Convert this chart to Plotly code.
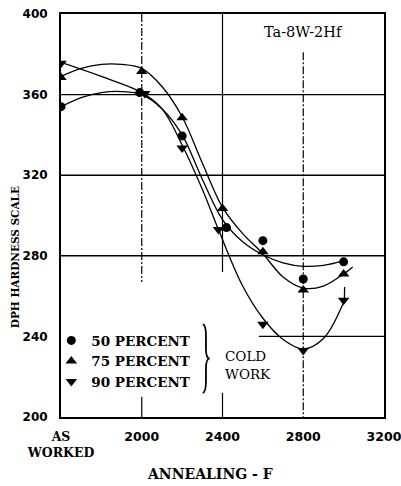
import plotly.graph_objects as go

# ---------------- data ----------------
# x = annealing temperature (F); 1600 is the "AS WORKED" position
x_ticks = [1600, 2000, 2400, 2800, 3200]
x_tick_text = ["<span style='font-family:DejaVu Serif'>AS</span><br><span style='font-family:DejaVu Serif'>WORKED</span>",
               "2000", "2400", "2800", "3200"]
y_ticks = [200, 240, 280, 320, 360, 400]

# measured points
p50_x = [1600, 1990, 2200, 2420, 2600, 2800, 3000]
p50_y = [354, 361, 339.5, 294, 287.5, 268.5, 277]
p75_x = [1600, 2000, 2200, 2400, 2600, 2800, 3000]
p75_y = [368.5, 371.5, 348.5, 303.5, 282, 263, 271]
p90_x = [1600, 2015, 2200, 2380, 2600, 2800, 3000]
p90_y = [375.5, 360.5, 333.5, 293, 246, 233, 258]

# faired curves drawn through the points
c50_x = [1600, 1700, 1800, 1900, 2000, 2100, 2200, 2300, 2400, 2500, 2600, 2700, 2800, 2900, 3000]
c50_y = [354, 358.5, 361, 361.5, 360, 353, 340, 318, 298, 287, 280.5, 276.5, 274.8, 275.3, 277.5]
c75_x = [1600, 1700, 1800, 1900, 2000, 2100, 2200, 2300, 2400, 2500, 2600, 2700, 2800, 2900, 3000, 3045]
c75_y = [369, 373, 375, 375, 373, 364, 349, 326, 304, 291, 281, 269.5, 264, 265, 271, 274.5]
c90_x = [1600, 1800, 2000, 2100, 2200, 2300, 2380, 2500, 2600, 2700, 2800, 2900, 3000]
c90_y = [376, 369, 361, 353, 335, 313, 293, 265, 249, 238.5, 233.8, 239, 257]
c90_end_x = [3004, 3005]
c90_end_y = [259, 264.5]

series_names = ["50 PERCENT", "75 PERCENT", "90 PERCENT"]
series_symbols = ["circle", "triangle-up", "triangle-down"]
title_text = "Ta-8W-2Hf"

# ---------------- figure ----------------
fig = go.Figure()
line_style = dict(color="black", width=1.3, shape="spline", smoothing=1.0)
for cx, cy in [(c50_x, c50_y), (c75_x, c75_y), (c90_x, c90_y)]:
    fig.add_trace(go.Scatter(x=cx, y=cy, mode="lines", line=line_style,
                             showlegend=False, hoverinfo="skip"))
fig.add_trace(go.Scatter(x=c90_end_x, y=c90_end_y, mode="lines",
                         line=dict(color="black", width=1.3),
                         showlegend=False, hoverinfo="skip"))

for (px, py), name, sym, sz in zip([(p50_x, p50_y), (p75_x, p75_y), (p90_x, p90_y)],
                                  series_names, series_symbols, [9, 10, 10]):
    fig.add_trace(go.Scatter(x=px, y=py, mode="markers", name=name,
                             marker=dict(symbol=sym, size=sz, color="black")))

# grid lines (partial, as in the original)
def hline(y, x0=1600, x1=3200, dash="solid"):
    fig.add_shape(type="line", x0=x0, x1=x1, y0=y, y1=y, xref="x", yref="y",
                  line=dict(color="black", width=1.4, dash=dash), layer="below")

def vline(x, y0, y1, dash="solid"):
    fig.add_shape(type="line", x0=x, x1=x, y0=y0, y1=y1, xref="x", yref="y",
                  line=dict(color="black", width=1.2, dash=dash), layer="below")

for yv in [360, 320, 280]:
    hline(yv)
hline(240, x0=2580)
vline(2000, 400, 267, dash="8px,2px,2px,2px")
vline(2000, 210, 200)
vline(2400, 400, 272)
vline(2400, 212, 200)
vline(2800, 381, 200, dash="8px,2px,2px,2px")

# brace for "COLD WORK"
fig.add_shape(type="path", xref="x", yref="y",
              path="M 2302,246 Q 2318,246 2318,240 L 2318,234 Q 2318,229 2336,229 "
                   "Q 2318,229 2318,224 L 2318,218 Q 2318,212 2302,212",
              line=dict(color="black", width=1.8))

serif = "DejaVu Serif"
fig.add_annotation(x=2403, y=226, xref="x", yref="y", text="COLD<br>WORK", showarrow=False,
                   xanchor="left", yanchor="middle", align="left",
                   font=dict(family=serif, size=13.5, color="black"))
fig.add_annotation(x=2800, y=391, xref="x", yref="y", text=title_text, showarrow=False,
                   font=dict(family=serif, size=14.5, color="black"))
fig.add_annotation(x=0.461, y=-0.141, xref="paper", yref="paper", text="<b>ANNEALING - F</b>",
                   showarrow=False, yanchor="middle",
                   font=dict(family=serif, size=14, color="black"))
fig.add_annotation(x=-0.142, y=0.397, xref="paper", yref="paper", text="<b>DPH HARDNESS SCALE</b>",
                   showarrow=False, textangle=-90, xanchor="center", yanchor="middle",
                   font=dict(family=serif, size=10.5, color="black"))

fig.update_layout(
    width=401, height=486,
    margin=dict(l=61, r=17, t=14, b=69, autoexpand=False),
    paper_bgcolor="white", plot_bgcolor="white",
    showlegend=True,
    legend=dict(x=-0.03, y=0.228, xanchor="left", yanchor="top",
                bgcolor="rgba(0,0,0,0)",
                font=dict(family=serif, size=13.5, color="black", weight="bold"),
                tracegroupgap=0, itemwidth=30),
)
fig.update_xaxes(range=[1600, 3200], tickvals=x_ticks, ticktext=x_tick_text,
                 showgrid=False, zeroline=False, showline=True, linecolor="black",
                 linewidth=2, mirror=True, ticks="", ticklabelstandoff=7,
                 ticklabeloverflow="allow", automargin=False,
                 tickfont=dict(family="DejaVu Sans", size=12.5, color="black", weight="bold"))
fig.update_yaxes(range=[200, 400], tickvals=y_ticks,
                 showgrid=False, zeroline=False, showline=True, linecolor="black",
                 linewidth=2, mirror=True, ticks="", ticklabelstandoff=9,
                 ticklabeloverflow="allow", automargin=False,
                 tickfont=dict(family="DejaVu Sans", size=12, color="black", weight="bold"))

fig.write_html("out.html")
